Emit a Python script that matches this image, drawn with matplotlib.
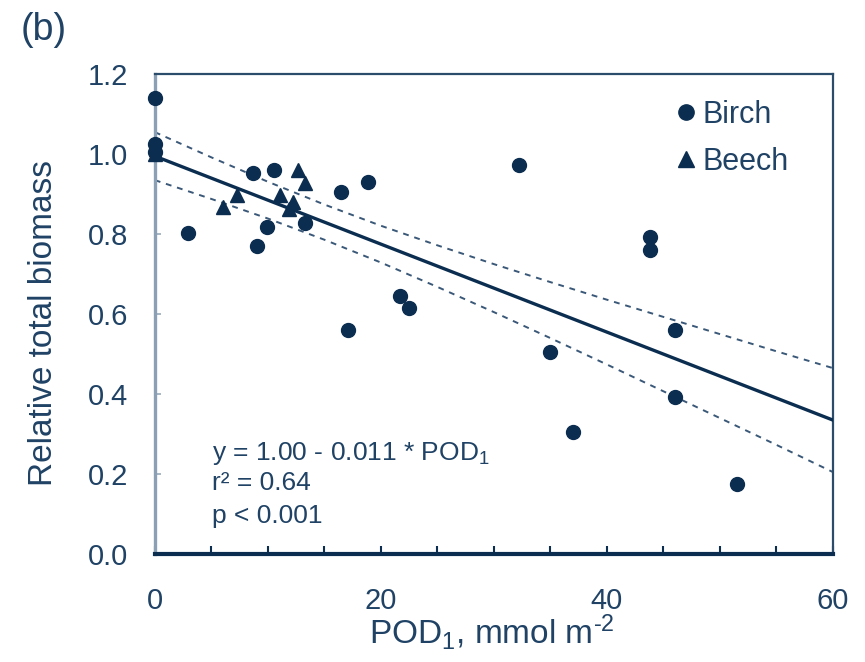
import matplotlib
matplotlib.use("Agg")
import matplotlib.pyplot as plt
from matplotlib.ticker import MultipleLocator, FormatStrFormatter

# birch (circles)
birch_pod = [0, 0, 0, 2.9, 8.7, 9.0, 9.9, 10.5, 13.3, 16.5, 17.1, 18.9,
             21.7, 22.5, 32.2, 35.0, 37.0, 43.8, 43.8, 46.0, 46.0, 51.5]
birch_rel = [1.14, 1.025, 1.005, 0.804, 0.952, 0.771, 0.817, 0.961, 0.829,
             0.906, 0.561, 0.931, 0.646, 0.615, 0.973, 0.506, 0.306, 0.793,
             0.761, 0.56, 0.392, 0.175]

# beech (triangles)
beech_pod = [0, 6.0, 7.3, 11.1, 11.9, 12.2, 12.7, 13.3]
beech_rel = [1.0, 0.867, 0.897, 0.897, 0.862, 0.881, 0.96, 0.929]

# regression line and 95% band
fit_x = [0, 60]
fit_y = [0.995, 0.335]
band_x = [0, 5, 10, 15, 20, 25, 30, 35, 40, 45, 50, 55, 60]
band_hi = [1.055, 0.992, 0.931, 0.874, 0.821, 0.772, 0.725, 0.680, 0.636,
           0.593, 0.550, 0.507, 0.465]
band_lo = [0.935, 0.888, 0.839, 0.786, 0.729, 0.668, 0.605, 0.540, 0.474,
           0.407, 0.340, 0.273, 0.205]

navy = "#0b2d50"
txt = "#1f4265"

plt.rcParams["font.family"] = ["Liberation Sans", "DejaVu Sans"]
plt.rcParams["mathtext.fontset"] = "custom"
plt.rcParams["mathtext.rm"] = "Liberation Sans"
plt.rcParams["mathtext.it"] = "Liberation Sans:italic"

fig = plt.figure(figsize=(8.65, 6.62), dpi=100)
ax = fig.add_axes([0.179, 0.163, 0.784, 0.725])

ax.plot(band_x, band_hi, color="#3a5878", lw=1.4, ls=(0, (3, 3)), zorder=2)
ax.plot(band_x, band_lo, color="#3a5878", lw=1.4, ls=(0, (3, 3)), zorder=2)
ax.plot(fit_x, fit_y, color=navy, lw=2.4, zorder=3)

ax.plot(birch_pod, birch_rel, "o", color=navy, ms=10, ls="none",
        label="Birch", clip_on=False, zorder=4)
ax.plot(beech_pod, beech_rel, "^", color=navy, ms=10.5, ls="none",
        label="Beech", clip_on=False, zorder=4)

ax.set_xlim(0, 60)
ax.set_ylim(0, 1.2)
ax.xaxis.set_major_locator(MultipleLocator(20))
ax.xaxis.set_minor_locator(MultipleLocator(5))
ax.yaxis.set_major_locator(MultipleLocator(0.2))
ax.yaxis.set_major_formatter(FormatStrFormatter("%.1f"))

ax.tick_params(axis="x", which="both", direction="in", length=6, width=1.5,
               color=navy, labelsize=21, labelcolor=txt, pad=24)
ax.tick_params(axis="y", which="both", direction="in", length=4, width=1.2,
               color="#9aaabb", labelsize=21, labelcolor=txt, pad=19)

ax.spines["left"].set_color("#8ba0b4")
ax.spines["left"].set_linewidth(2.4)
ax.spines["bottom"].set_color(navy)
ax.spines["bottom"].set_linewidth(3)
ax.spines["top"].set_color("#2c4c6c")
ax.spines["top"].set_linewidth(1.6)
ax.spines["right"].set_color("#2c4c6c")
ax.spines["right"].set_linewidth(1.6)

ax.set_xlabel("POD$_1$, mmol m$^{\u20102}$", fontsize=24, color=txt)
ax.xaxis.set_label_coords(0.497, -0.163)
ax.xaxis.label.set_va("center")
ax.set_ylabel("Relative total biomass", fontsize=24, color=txt)
ax.yaxis.set_label_coords(-0.164, 0.481)
ax.yaxis.label.set_va("center")

leg = ax.legend(loc="upper left", bbox_to_anchor=(0.765, 0.946),
                frameon=False, fontsize=22, borderpad=0, borderaxespad=0,
                handlelength=0.8, handletextpad=0.15, labelspacing=0.55,
                markerscale=1.1)
for t in leg.get_texts():
    t.set_color(txt)

ax.text(0.084, 0.210, "y = 1.00 - 0.011 * POD$_1$", transform=ax.transAxes,
        fontsize=19, color=txt, va="center")
ax.text(0.084, 0.148, "r² = 0.64", transform=ax.transAxes,
        fontsize=19, color=txt, va="center")
ax.text(0.084, 0.079, "p < 0.001", transform=ax.transAxes,
        fontsize=19, color=txt, va="center")

fig.text(0.050, 0.955, "(b)", fontsize=27, color=txt, va="center",
         ha="center")

fig.savefig("out.png", dpi=100)
plt.close(fig)
